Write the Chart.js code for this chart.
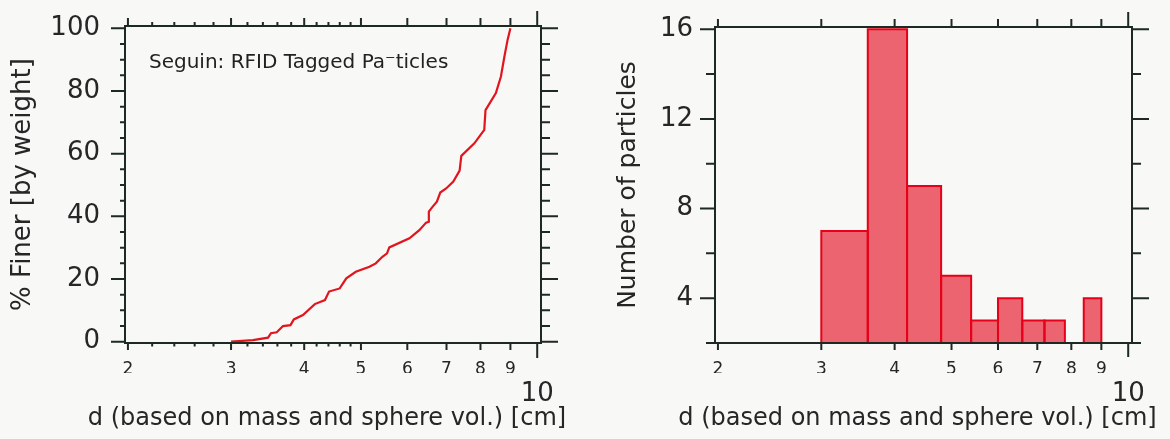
<!DOCTYPE html>
<html>
<head>
<meta charset="utf-8">
<title>Seguin: RFID tagged particles</title>
<script src="https://cdn.jsdelivr.net/npm/chart.js@4.4.1/dist/chart.umd.min.js"></script>
<style>
  html, body { margin: 0; padding: 0; background: #f8f8f6; }
  #wrap { position: relative; width: 1170px; height: 439px; overflow: hidden; }
  canvas { position: absolute; top: 0; }
  #finerChart { left: 0; }
  #countChart { left: 585px; }
  .note {
    position: absolute; left: 149px; top: 51px;
    font: 20px/20px "DejaVu Sans", sans-serif; color: #222; white-space: nowrap;
  }
</style>
</head>
<body>
<div id="wrap">
  <canvas id="finerChart" width="585" height="439"></canvas>
  <canvas id="countChart" width="585" height="439"></canvas>
  <div class="note">Seguin: RFID Tagged Pa⁻ticles</div>
</div>
<script>
// cumulative grain size curve, d [cm] vs % finer by weight
const finerSize = [3.0, 3.27, 3.47, 3.51, 3.59, 3.68, 3.79, 3.84, 3.98, 4.17,
  4.34, 4.41, 4.60, 4.72, 4.90, 5.17, 5.30, 5.44, 5.54, 5.59,
  6.05, 6.29, 6.46, 6.53, 6.53, 6.63, 6.74, 6.83, 6.99, 7.19,
  7.37, 7.42, 7.81, 8.12, 8.16, 8.50, 8.67, 8.79, 8.90, 9.0];
const finerPct = [0, 0.5, 1.3, 2.7, 3.0, 5.0, 5.3, 7.1, 8.5, 12.0,
  13.3, 16.0, 17.0, 20.2, 22.3, 23.9, 25.0, 27.1, 28.2, 30.1,
  33.0, 35.6, 38.0, 38.3, 41.5, 43.1, 44.7, 47.6, 48.9, 51.1,
  54.6, 59.3, 63.3, 67.6, 73.9, 79.3, 84.6, 91.0, 96.3, 100];

// histogram of particle counts per size class
const binEdges = [3.0, 3.6, 4.2, 4.8, 5.4, 6.0, 6.6, 7.2, 7.8, 8.4, 9.0];
const binCounts = [7, 16, 9, 5, 3, 4, 3, 3, 1, 4];

// tick values
const sizeLabels = [2, 3, 4, 5, 6, 7, 8, 9];
const sizeMinor = [2.2, 2.4, 2.6, 2.8, 3.2, 3.4, 3.6, 3.8, 4.2, 4.4, 4.6, 4.8];
const sizeDecade = [10];
const finerLabels = [0, 20, 40, 60, 80, 100];
const finerMinor = [5, 10, 15, 25, 30, 35, 45, 50, 55, 65, 70, 75, 85, 90, 95];
const countLabels = [4, 8, 12, 16];
const countMinor = [2, 6, 10, 14];

const sizeTitle = 'd (based on mass and sphere vol.) [cm]';

const FONT = '"DejaVu Sans", sans-serif';
const INK = '#262626';
const AXIS = '#1d2a24';
const CURVE_RED = '#e2141e';
const BAR_EDGE = '#e60019';
const BAR_FILL = '#ec6470';
const COUNT_FLOOR = 2;
const SIZE_MIN = 1.977, SIZE_MAX = 10.15;

Chart.defaults.font.family = FONT;
Chart.defaults.color = INK;

// boxed frame with outward tick marks on all four sides, plus axis titles
// (titles drawn here so they keep their natural width)
function frameTicks(marks, titles) {
  return {
    id: 'frameTicks',
    afterDraw(chart) {
      const {ctx, chartArea: a, scales: {x, y}} = chart;
      ctx.save();
      ctx.strokeStyle = AXIS;
      ctx.lineWidth = 2;
      ctx.strokeRect(a.left, a.top, a.right - a.left, a.bottom - a.top);
      ctx.beginPath();
      marks.bottom.forEach(([vals, len]) => vals.forEach(v => {
        const px = x.getPixelForValue(v);
        ctx.moveTo(px, a.bottom); ctx.lineTo(px, a.bottom + len);
      }));
      marks.top.forEach(([vals, len]) => vals.forEach(v => {
        const px = x.getPixelForValue(v);
        ctx.moveTo(px, a.top); ctx.lineTo(px, a.top - len);
      }));
      marks.left.forEach(([vals, len]) => vals.forEach(v => {
        const py = y.getPixelForValue(v);
        ctx.moveTo(a.left, py); ctx.lineTo(a.left - len, py);
      }));
      marks.right.forEach(([vals, len]) => vals.forEach(v => {
        const py = y.getPixelForValue(v);
        ctx.moveTo(a.right, py); ctx.lineTo(a.right + len, py);
      }));
      ctx.stroke();

      ctx.fillStyle = INK;
      ctx.textAlign = 'center';
      ctx.textBaseline = 'middle';
      ctx.font = '24px ' + FONT;
      ctx.fillText(titles.x, (a.left + a.right) / 2 - 6, chart.height - 20);
      ctx.font = titles.ySize + 'px ' + FONT;
      ctx.translate(titles.yPos, (a.top + a.bottom) / 2);
      ctx.rotate(-Math.PI / 2);
      ctx.fillText(titles.y, 0, 0);
      ctx.restore();
    }
  };
}

const noGrid = {display: false, drawTicks: false};

// shared log size axis: digits 2-9 on one row, the decade "10" below it
function sizeScales() {
  const flat = s => { s.paddingLeft = 0; s.paddingRight = 0; };
  return {
    x: {
      type: 'logarithmic', position: 'bottom', weight: 0,
      min: SIZE_MIN, max: SIZE_MAX,
      afterBuildTicks: s => { s.ticks = sizeLabels.map(v => ({value: v})); },
      afterFit: s => { s.height = 30; flat(s); },
      grid: noGrid, border: {display: false},
      ticks: {autoSkip: false, maxRotation: 0, padding: 16, font: {size: 17}, callback: v => String(v)}
    },
    xDecade: {
      type: 'logarithmic', position: 'bottom', weight: 1,
      min: SIZE_MIN, max: SIZE_MAX,
      afterBuildTicks: s => { s.ticks = sizeDecade.map(v => ({value: v})); },
      afterFit: s => { s.height = 66; flat(s); },
      grid: noGrid, border: {display: false},
      ticks: {autoSkip: false, maxRotation: 0, padding: 6, font: {size: 26}, callback: v => String(v)}
    }
  };
}

function valueScale(min, max, labels, width, pad) {
  return {
    type: 'linear', min, max,
    afterBuildTicks: s => { s.ticks = labels.map(v => ({value: v})); },
    afterFit: s => { s.width = width; s.paddingTop = 0; s.paddingBottom = 0; },
    grid: noGrid, border: {display: false},
    ticks: {padding: pad, font: {size: 26}}
  };
}

const baseOptions = {
  responsive: false,
  animation: false,
  events: [],
  plugins: {legend: {display: false}, tooltip: {enabled: false}}
};

// left panel: cumulative curve
new Chart(document.getElementById('finerChart'), {
  type: 'line',
  data: {
    datasets: [{
      data: finerSize.map((d, i) => ({x: d, y: finerPct[i]})),
      borderColor: CURVE_RED,
      borderWidth: 2.2,
      pointRadius: 0,
      tension: 0,
      fill: false
    }]
  },
  options: {
    ...baseOptions,
    layout: {padding: {top: 26, right: 44, left: 0, bottom: 0}},
    scales: {
      ...sizeScales(),
      y: valueScale(-0.41, 100.73, finerLabels, 125, 25)
    }
  },
  plugins: [frameTicks({
    bottom: [[sizeLabels, 7], [sizeMinor, 3.5], [sizeDecade, 15]],
    top: [[sizeLabels, 8], [sizeMinor, 4], [sizeDecade, 15]],
    left: [[finerLabels, 14], [finerMinor, 5]],
    right: [[finerLabels, 17], [finerMinor, 9]]
  }, {x: sizeTitle, y: '% Finer [by weight]', ySize: 26, yPos: 23})]
});

// right panel: histogram, one outline per size class
const binSets = binCounts
  .map((c, i) => ({c, lo: binEdges[i], hi: binEdges[i + 1]}))
  .filter(b => b.c > COUNT_FLOOR)
  .map(b => ({
    data: [
      {x: b.lo, y: COUNT_FLOOR}, {x: b.lo, y: b.c},
      {x: b.hi, y: b.c}, {x: b.hi, y: COUNT_FLOOR}
    ],
    borderColor: BAR_EDGE,
    backgroundColor: BAR_FILL,
    borderWidth: 2,
    pointRadius: 0,
    tension: 0,
    fill: 'start'
  }));

new Chart(document.getElementById('countChart'), {
  type: 'line',
  data: {datasets: binSets},
  options: {
    ...baseOptions,
    plugins: {...baseOptions.plugins, filler: {drawTime: 'beforeDatasetsDraw'}},
    layout: {padding: {top: 27, right: 38, left: 0, bottom: 0}},
    scales: {
      ...sizeScales(),
      y: valueScale(COUNT_FLOOR, 16.1, countLabels, 130, 22)
    }
  },
  plugins: [frameTicks({
    bottom: [[sizeLabels, 7], [sizeDecade, 14]],
    top: [[sizeLabels, 8], [sizeDecade, 15]],
    left: [[countLabels, 15], [countMinor, 9]],
    right: [[countLabels, 17], [countMinor, 9]]
  }, {x: sizeTitle, y: 'Number of particles', ySize: 25, yPos: 43})]
});
</script>
</body>
</html>
